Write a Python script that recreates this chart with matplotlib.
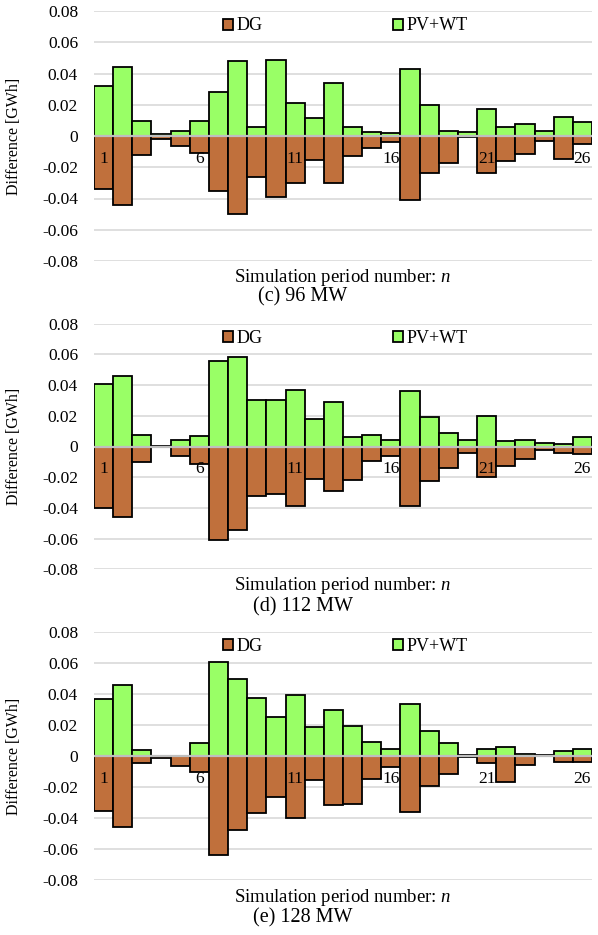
import matplotlib
matplotlib.use("Agg")
import matplotlib.pyplot as plt
import numpy as np

plt.rcParams['font.family'] = ['Liberation Serif', 'DejaVu Serif']
plt.rcParams['mathtext.fontset'] = 'custom'
plt.rcParams['mathtext.rm'] = 'Liberation Serif'
plt.rcParams['mathtext.it'] = 'Liberation Serif:italic'

periods = list(range(1, 27))
tick_positions = [1, 6, 11, 16, 21, 26]
y_ticks = [0.08, 0.06, 0.04, 0.02, 0.0, -0.02, -0.04, -0.06, -0.08]
y_tick_labels = ["0.08", "0.06", "0.04", "0.02", "0", "-0.02", "-0.04", "-0.06", "-0.08"]
captions = ["(c) 96 MW", "(d) 112 MW", "(e) 128 MW"]
series_names = ["DG", "PV+WT"]

pv_96 = [0.032, 0.044, 0.0094, 0.001, 0.003, 0.0094, 0.028, 0.048, 0.006, 0.0486, 0.021, 0.0117, 0.034,
         0.0055, 0.0026, 0.0017, 0.043, 0.020, 0.0034, 0.0026, 0.017, 0.006, 0.0075, 0.003, 0.0124, 0.009]
dg_96 = [-0.034, -0.044, -0.012, -0.002, -0.0066, -0.011, -0.035, -0.050, -0.026, -0.039, -0.030, -0.0156, -0.030,
         -0.0126, -0.0077, -0.0036, -0.041, -0.0235, -0.017, -0.0005, -0.0235, -0.016, -0.0115, -0.003, -0.0145, -0.005]

pv_112 = [0.0407, 0.0457, 0.0074, 0.0003, 0.004, 0.007, 0.056, 0.058, 0.030, 0.0304, 0.0367, 0.0176, 0.0293,
          0.006, 0.0076, 0.0043, 0.036, 0.019, 0.0089, 0.0043, 0.0196, 0.0035, 0.0043, 0.0024, 0.0017, 0.0063]
dg_112 = [-0.040, -0.0457, -0.0098, -0.0003, -0.006, -0.0113, -0.0607, -0.0546, -0.0324, -0.031, -0.039, -0.021, -0.0287,
          -0.0215, -0.0096, -0.006, -0.0385, -0.0228, -0.0137, -0.004, -0.0198, -0.0128, -0.008, -0.0022, -0.0043, -0.0052]

pv_128 = [0.0367, 0.0455, 0.0036, 0.0, 0.0, 0.0082, 0.0607, 0.0494, 0.0373, 0.0249, 0.039, 0.0189, 0.0296,
          0.0193, 0.0092, 0.0045, 0.0335, 0.016, 0.0086, 0.0008, 0.0047, 0.0056, 0.001, 0.0005, 0.003, 0.0045]
dg_128 = [-0.0354, -0.0455, -0.0043, -0.001, -0.0067, -0.0105, -0.0637, -0.0474, -0.0365, -0.0266, -0.040, -0.0157, -0.0315,
          -0.0311, -0.0146, -0.0071, -0.0358, -0.0193, -0.0116, -0.0005, -0.0043, -0.017, -0.0056, -0.0002, -0.0039, -0.0036]

DG_COLOR = '#C0703C'
PV_COLOR = '#99FF66'

W, H = 598, 935
fig = plt.figure(figsize=(W / 100, H / 100), dpi=100)

# (top_px, bottom_px, xlabel_y_px, caption_y_px)
panels = [
    (11, 261, 277, 297, pv_96, dg_96, captions[0]),
    (323.7, 569.3, 586, 607, pv_112, dg_112, captions[1]),
    (631.7, 880.3, 897, 918, pv_128, dg_128, captions[2]),
]

left_px, right_px = 94, 592

for top, bot, xl_y, cap_y, pv, dg, cap in panels:
    ax = fig.add_axes([left_px / W, 1 - bot / H, (right_px - left_px) / W, (bot - top) / H])
    ax.set_xlim(0.5, 26.5)
    ax.set_ylim(-0.08, 0.08)
    for yv in y_ticks:
        if yv != 0:
            ax.axhline(yv, color='#d9d9d9', lw=1.2, zorder=0)
    b1 = ax.bar(periods, dg, width=1.0, color=DG_COLOR, edgecolor='black', linewidth=1.3, zorder=2, label=series_names[0])
    b2 = ax.bar(periods, pv, width=1.0, color=PV_COLOR, edgecolor='black', linewidth=1.3, zorder=2, label=series_names[1])
    ax.axhline(0, color='#bfbfbf', lw=1.6, zorder=3)

    for s in ['top', 'right', 'left', 'bottom']:
        ax.spines[s].set_visible(False)
    ax.set_yticks(y_ticks)
    ax.set_yticklabels(y_tick_labels, fontsize=12.5)
    ax.tick_params(axis='y', length=0, pad=11.5)
    ax.set_xticks([])
    for p in tick_positions:
        ax.annotate(str(p), xy=(p, 0), xytext=(0, -16.5), textcoords='offset points',
                    ha='center', va='center', fontsize=12.5, zorder=5)

    ax.set_ylabel("Difference [GWh]", fontsize=11.5)
    ax.yaxis.set_label_coords(-0.145, 0.5)

    ax.legend(handles=[b1, b2], ncol=2, loc='center', bbox_to_anchor=(0.505, 0.94),
              frameon=False, fontsize=13, handlelength=0.55, handleheight=0.55,
              handletextpad=0.2, columnspacing=7.2, borderaxespad=0)

    fig.text((left_px + right_px) / 2 / W, 1 - xl_y / H, "Simulation period number: $n$",
             ha='center', va='center', fontsize=13.5)
    fig.text(303 / W, 1 - cap_y / H, cap, ha='center', va='center', fontsize=14.5)

fig.savefig("out.png", dpi=100)
